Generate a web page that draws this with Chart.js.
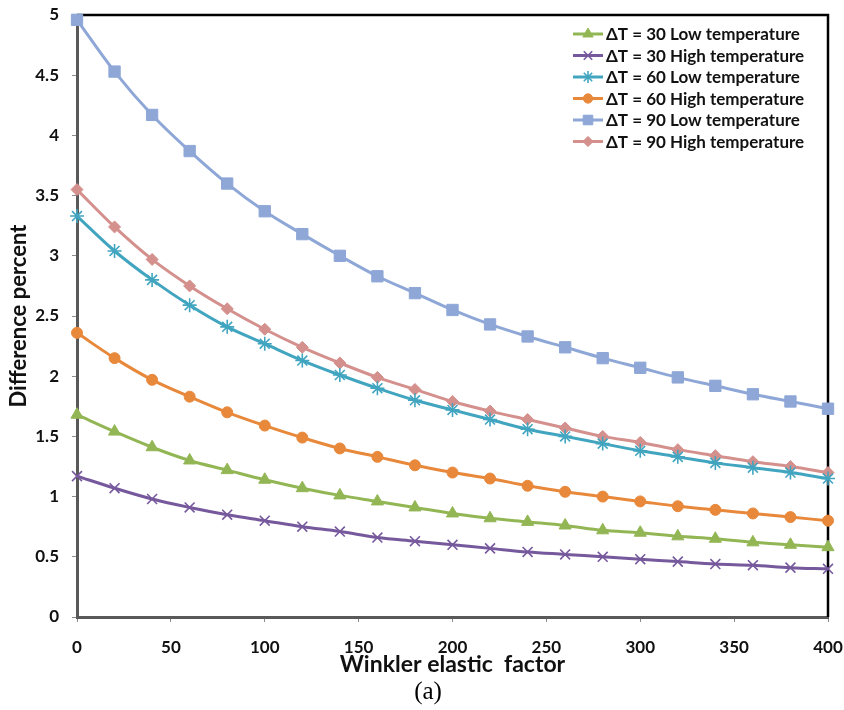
<!DOCTYPE html>
<html>
<head>
<meta charset="utf-8">
<script src="https://cdn.jsdelivr.net/npm/chart.js@4/dist/chart.umd.min.js"></script>
<style>
  html, body { margin: 0; padding: 0; background: #fff; }
</style>
</head>
<body>
<canvas id="winklerChart" width="844" height="710"></canvas>
<script>
const FONT = "Lato, 'Open Sans', 'DejaVu Sans', sans-serif";

// Winkler elastic factor (x axis)
const factors = [0, 20, 40, 60, 80, 100, 120, 140, 160, 180, 200, 220, 240, 260, 280, 300, 320, 340, 360, 380, 400];

// Difference percent for each temperature case
const dt30Low  = [1.68, 1.54, 1.41, 1.30, 1.22, 1.14, 1.07, 1.01, 0.96, 0.91, 0.86, 0.82, 0.79, 0.76, 0.72, 0.70, 0.67, 0.65, 0.62, 0.60, 0.58];
const dt30High = [1.17, 1.07, 0.98, 0.91, 0.85, 0.80, 0.75, 0.71, 0.66, 0.63, 0.60, 0.57, 0.54, 0.52, 0.50, 0.48, 0.46, 0.44, 0.43, 0.41, 0.40];
const dt60Low  = [3.33, 3.04, 2.80, 2.59, 2.41, 2.27, 2.13, 2.01, 1.90, 1.80, 1.72, 1.64, 1.56, 1.50, 1.44, 1.38, 1.33, 1.28, 1.24, 1.20, 1.15];
const dt60High = [2.36, 2.15, 1.97, 1.83, 1.70, 1.59, 1.49, 1.40, 1.33, 1.26, 1.20, 1.15, 1.09, 1.04, 1.00, 0.96, 0.92, 0.89, 0.86, 0.83, 0.80];
const dt90Low  = [4.96, 4.53, 4.17, 3.87, 3.60, 3.37, 3.18, 3.00, 2.83, 2.69, 2.55, 2.43, 2.33, 2.24, 2.15, 2.07, 1.99, 1.92, 1.85, 1.79, 1.73];
const dt90High = [3.55, 3.24, 2.97, 2.75, 2.56, 2.39, 2.24, 2.11, 1.99, 1.89, 1.79, 1.71, 1.64, 1.57, 1.50, 1.45, 1.39, 1.34, 1.29, 1.25, 1.20];

const seriesNames = [
  "ΔT = 30 Low temperature",
  "ΔT = 30 High temperature",
  "ΔT = 60 Low temperature",
  "ΔT = 60 High temperature",
  "ΔT = 90 Low temperature",
  "ΔT = 90 High temperature"
];

const xTicks = [0, 50, 100, 150, 200, 250, 300, 350, 400];
const yTicks = [0, 0.5, 1, 1.5, 2, 2.5, 3, 3.5, 4, 4.5, 5];

const toPoints = values => values.map((v, i) => ({ x: factors[i], y: v }));

function series(label, values, color, style, radius, open) {
  return {
    label,
    data: toPoints(values),
    borderColor: color,
    backgroundColor: color,
    borderWidth: 3,
    pointStyle: style,
    pointRadius: radius,
    pointHoverRadius: radius,
    pointBorderWidth: open ? 1.6 : 1,
    pointBackgroundColor: color,
    pointBorderColor: color,
    tension: 0.35,
    clip: false
  };
}

const datasets = [
  series(seriesNames[0], dt30Low,  "#93b655", "triangle", 7,   false),
  series(seriesNames[1], dt30High, "#76599c", "crossRot", 7,   true),
  series(seriesNames[2], dt60Low,  "#41a5c0", "star",     7,   true),
  series(seriesNames[3], dt60High, "#e8883b", "circle",   5.5, false),
  series(seriesNames[4], dt90Low,  "#8ea7d7", "rect",     8,   false),
  series(seriesNames[5], dt90High, "#d4908d", "rectRot",  6,   false)
];

// frame: black top/right edges behind the lines
const framePlugin = {
  id: "frame",
  beforeDatasetsDraw(chart) {
    const { ctx, chartArea: a } = chart;
    ctx.save();
    ctx.strokeStyle = "#000";
    ctx.lineWidth = 2.5;
    ctx.beginPath();
    ctx.moveTo(a.left, a.top);
    ctx.lineTo(a.right, a.top);
    ctx.lineTo(a.right, a.bottom);
    ctx.stroke();
    ctx.restore();
  }
};

// legend drawn inside the plot, Excel style (line with marker in the middle)
const innerLegend = {
  id: "innerLegend",
  afterDatasetsDraw(chart) {
    const { ctx } = chart;
    const x0 = 573, x1 = 603, top = 34, step = 21.5;
    ctx.save();
    chart.data.datasets.forEach((ds, i) => {
      const y = top + i * step;
      ctx.strokeStyle = ds.borderColor;
      ctx.lineWidth = 3;
      ctx.beginPath();
      ctx.moveTo(x0, y);
      ctx.lineTo(x1, y);
      ctx.stroke();
      ctx.fillStyle = ds.pointBackgroundColor;
      ctx.strokeStyle = ds.pointBorderColor;
      ctx.lineWidth = ds.pointBorderWidth;
      Chart.helpers.drawPoint(ctx, {
        pointStyle: ds.pointStyle,
        radius: ds.pointRadius * 0.85,
        rotation: 0,
        borderWidth: ds.pointBorderWidth
      }, (x0 + x1) / 2, y);
      ctx.fillStyle = "#111";
      ctx.font = "bold 17px " + FONT;
      ctx.textAlign = "left";
      ctx.textBaseline = "middle";
      ctx.fillText(ds.label, x1 + 3, y + 1);
    });
    ctx.restore();
  }
};

// sub-figure caption
const captionPlugin = {
  id: "caption",
  afterDraw(chart) {
    const { ctx } = chart;
    ctx.save();
    ctx.fillStyle = "#000";
    ctx.font = "25px 'Liberation Serif', 'DejaVu Serif', serif";
    ctx.textAlign = "center";
    ctx.textBaseline = "middle";
    ctx.fillText("(a)", 428, 692);
    ctx.restore();
  }
};

new Chart(document.getElementById("winklerChart").getContext("2d"), {
  type: "line",
  data: { datasets },
  plugins: [framePlugin, innerLegend, captionPlugin],
  options: {
    responsive: false,
    animation: false,
    events: [],
    layout: { padding: { top: 15, right: 16, left: 0, bottom: 0 } },
    plugins: { legend: { display: false }, tooltip: { enabled: false } },
    scales: {
      x: {
        type: "linear",
        min: 0,
        max: 400,
        afterBuildTicks: scale => { scale.ticks = xTicks.map(v => ({ value: v })); },
        afterFit: scale => {
          scale.height = 93;
          scale.paddingLeft = 0;
          scale.paddingRight = 0;
        },
        border: { color: "#595959", width: 3 },
        grid: { drawOnChartArea: false, drawTicks: true, tickLength: 5, color: "#8c8c8c" },
        ticks: { color: "#111", padding: 15, maxRotation: 0, font: { family: FONT, size: 17, weight: "bold" } },
        title: {
          display: true,
          text: "Winkler elastic  factor",
          color: "#111",
          padding: { top: 0, bottom: 32 },
          font: { family: FONT, size: 23, weight: "bold" }
        }
      },
      y: {
        min: 0,
        max: 5,
        afterBuildTicks: scale => { scale.ticks = yTicks.map(v => ({ value: v })); },
        afterFit: scale => {
          scale.width = 77;
          scale.paddingTop = 0;
          scale.paddingBottom = 0;
        },
        border: { color: "#595959", width: 3 },
        grid: { drawOnChartArea: false, drawTicks: true, tickLength: 5, color: "#8c8c8c" },
        ticks: {
          color: "#111",
          padding: 13,
          font: { family: FONT, size: 17, weight: "bold" },
          callback: v => String(v)
        },
        title: {
          display: true,
          text: "Difference percent",
          color: "#111",
          padding: { top: 6, bottom: 0 },
          font: { family: FONT, size: 22, weight: "bold" }
        }
      }
    }
  }
});
</script>
</body>
</html>
